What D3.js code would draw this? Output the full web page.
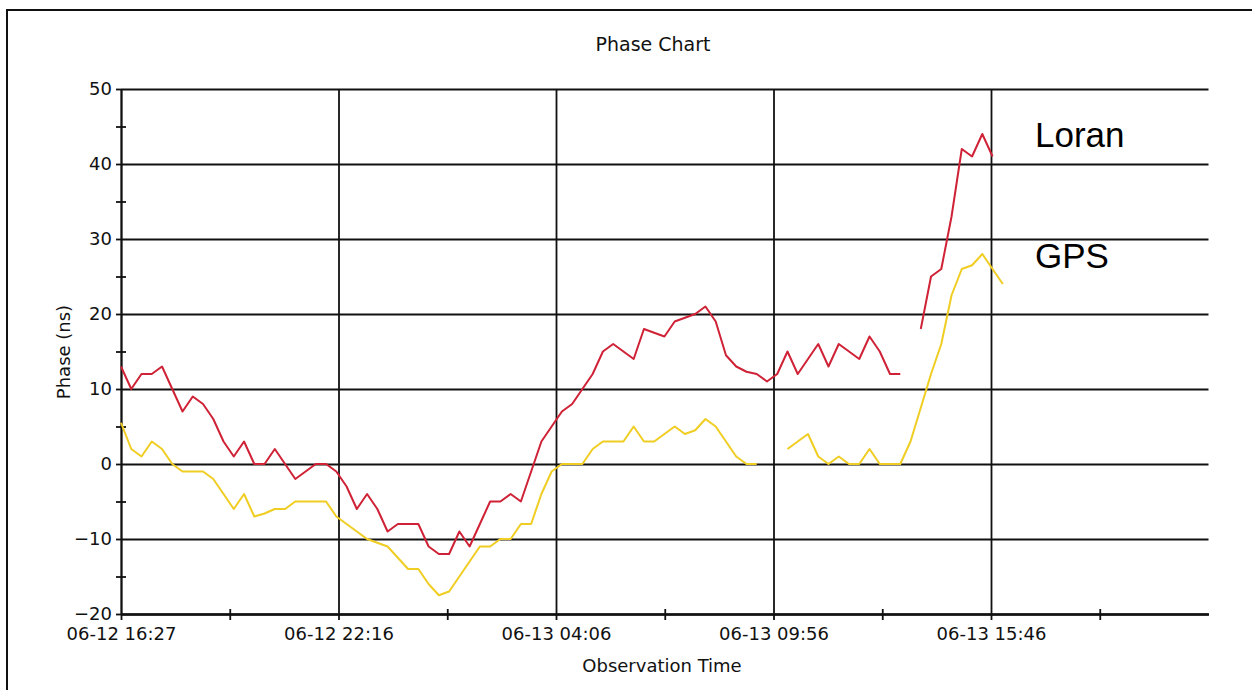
<!DOCTYPE html>
<html>
<head>
<meta charset="utf-8">
<script src="https://cdn.jsdelivr.net/npm/d3@7"></script>
<style>
body { margin: 0; background: #fff; }
svg { display: block; font-family: "DejaVu Sans", sans-serif; }
.axis .domain, .axis line, .grid line { stroke: #111; stroke-width: 1.8; }
.grid .domain { display: none; }
.axis text { font-family: "DejaVu Sans", sans-serif; font-size: 18px; fill: #111; }
</style>
</head>
<body>
<script>
// Phase chart: Loran and GPS phase (ns) over about a day of observations.
// Samples are evenly spaced, minutes between two points:
var stepMinutes = 16.5;

// x axis, minutes from 06-12 16:27
var timeTicks = [0, 350, 700, 1050, 1400];
var timeLabels = ["06-12 16:27", "06-12 22:16", "06-13 04:06",
                  "06-13 09:56", "06-13 15:46"];
var timeMinorTicks = [175, 525, 875, 1225, 1575];

// y axis
var phaseTicks = [-20, -10, 0, 10, 20, 30, 40, 50];
var phaseMinorTicks = [-15, -5, 5, 15, 25, 35, 45];

// null = no data
var loran = [13, 10, 12, 12, 13, 10, 7, 9, 8, 6,
             3, 1, 3, 0, 0, 2, 0, -2, -1, 0,
             0, -1, -3, -6, -4, -6, -9, -8, -8, -8,
             -11, -12, -12, -9, -11, -8, -5, -5, -4, -5,
             -1, 3, 5, 7, 8, 10, 12, 15, 16, 15,
             14, 18, 17.5, 17, 19, 19.5, 20, 21, 19, 14.5,
             13, 12.3, 12, 11, 12, 15, 12, 14, 16, 13,
             16, 15, 14, 17, 15, 12, 12, null, 18, 25,
             26, 33, 42, 41, 44, 41];

var gps = [5.5, 2, 1, 3, 2, 0, -1, -1, -1, -2,
           -4, -6, -4, -7, -6.6, -6, -6, -5, -5, -5,
           -5, -7, -8, -9, -10, -10.5, -11, -12.5, -14, -14,
           -16, -17.5, -17, -15, -13, -11, -11, -10, -10, -8,
           -8, -4, -1, 0, 0, 0, 2, 3, 3, 3,
           5, 3, 3, 4, 5, 4, 4.5, 6, 5, 3,
           1, 0, 0, null, null, 2, 3, 4, 1, 0,
           1, 0, 0, 2, 0, 0, 0, 3, 7.5, 12,
           16, 22.5, 26, 26.5, 28, 26, 24];

var series = [
    {name: "Loran", values: loran, color: "#cf2236", labelY: 147},
    {name: "GPS", values: gps, color: "#f0cd22", labelY: 268}
];

var margin = {top: 89, right: 43.5, bottom: 76, left: 121},
    width = 1252 - margin.left - margin.right,
    height = 690 - margin.top - margin.bottom;

var svg = d3.select("body").append("svg")
    .attr("width", 1252)
    .attr("height", 690);

// frame round the whole picture (right and bottom run off the page)
svg.append("rect")
    .attr("x", 7)
    .attr("y", 10)
    .attr("width", 1300)
    .attr("height", 700)
    .attr("fill", "none")
    .attr("stroke", "#111")
    .attr("stroke-width", 2);

svg.append("text")
    .attr("x", 653)
    .attr("y", 51)
    .attr("text-anchor", "middle")
    .style("font-size", "19px")
    .attr("fill", "#111")
    .text("Phase Chart");

var g = svg.append("g")
    .attr("transform", "translate(" + margin.left + "," + margin.top + ")");

var xScale = d3.scaleLinear().domain([0, 1750]).range([0, width]);
var yScale = d3.scaleLinear().domain([-20, 50]).range([height, 0]);

// grid lines at the labelled ticks
g.append("g")
    .attr("class", "grid")
    .call(d3.axisLeft(yScale).tickValues(phaseTicks)
        .tickSize(-width).tickFormat(""));

g.append("g")
    .attr("class", "grid")
    .call(d3.axisBottom(xScale).tickValues(timeTicks.slice(1))
        .tickSize(height).tickFormat(""));

// minor ticks cross the axis lines
g.append("g")
    .attr("class", "axis")
    .call(d3.axisLeft(yScale).tickValues(phaseMinorTicks)
        .tickSize(5).tickSizeOuter(0).tickFormat(""))
    .selectAll(".tick line").attr("x2", -5).attr("x1", 5);

g.append("g")
    .attr("class", "axis")
    .attr("transform", "translate(0," + height + ")")
    .call(d3.axisBottom(xScale).tickValues(timeMinorTicks)
        .tickSize(6).tickSizeOuter(0).tickFormat(""))
    .selectAll(".tick line").attr("y1", -5);

g.append("g")
    .attr("class", "axis")
    .call(d3.axisLeft(yScale).tickValues(phaseTicks)
        .tickSize(5).tickSizeOuter(0).tickPadding(4));

g.append("g")
    .attr("class", "axis")
    .attr("transform", "translate(0," + height + ")")
    .call(d3.axisBottom(xScale).tickValues(timeTicks)
        .tickSize(6).tickSizeOuter(0).tickPadding(7)
        .tickFormat(function(d, i) { return timeLabels[i]; }));

// the two phase traces
var line = d3.line()
    .defined(function(d) { return d != null; })
    .x(function(d, i) { return xScale(i * stepMinutes); })
    .y(function(d) { return yScale(d); });

g.selectAll(".trace")
    .data(series)
    .enter()
    .append("path")
    .attr("class", "trace")
    .attr("fill", "none")
    .attr("stroke", function(d) { return d.color; })
    .attr("stroke-width", 2)
    .attr("stroke-linejoin", "round")
    .attr("d", function(d) { return line(d.values); });

// labels written next to the traces
svg.selectAll(".name")
    .data(series)
    .enter()
    .append("text")
    .attr("class", "name")
    .attr("x", 1035)
    .attr("y", function(d) { return d.labelY; })
    .style("font-family", "'Liberation Sans', Arial, sans-serif")
    .style("font-size", "35px")
    .attr("fill", "#000")
    .text(function(d) { return d.name; });

// axis titles
svg.append("text")
    .attr("transform", "translate(70,352) rotate(-90)")
    .attr("text-anchor", "middle")
    .style("font-size", "18px")
    .attr("fill", "#111")
    .text("Phase (ns)");

svg.append("text")
    .attr("x", 662)
    .attr("y", 672)
    .attr("text-anchor", "middle")
    .style("font-size", "18px")
    .attr("fill", "#111")
    .text("Observation Time");
</script>
</body>
</html>
